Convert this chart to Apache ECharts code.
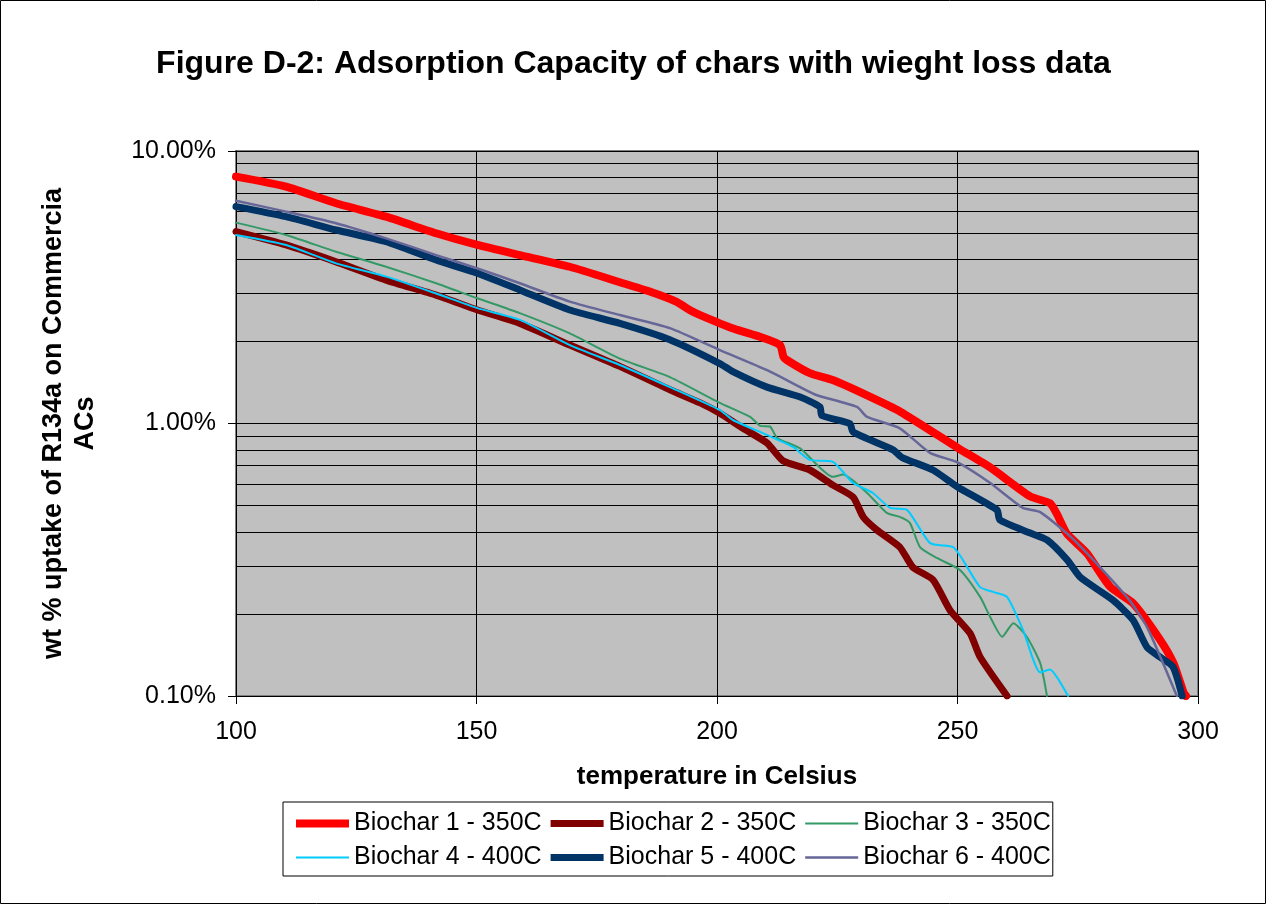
<!DOCTYPE html>
<html>
<head>
<meta charset="utf-8">
<script src="https://cdn.jsdelivr.net/npm/echarts@6/dist/echarts.min.js"></script>
<style>
html,body{margin:0;padding:0;background:#fff;}
#chart{width:1267px;height:905px;}
</style>
</head>
<body>
<div id="chart"></div>
<script>
// ---- data (temperature in Celsius, wt % uptake) ----
const seriesNames = ['Biochar 1 - 350C','Biochar 2 - 350C','Biochar 3 - 350C','Biochar 4 - 400C','Biochar 5 - 400C','Biochar 6 - 400C'];
const biochar1 = [[100,8.05],[110.4,7.40],[120.8,6.43],[131.2,5.74],[141.6,4.99],[150.2,4.52],[159,4.15],[169.4,3.76],[179.8,3.30],[186,3.05],[191.5,2.80],[194.5,2.60],[196.5,2.50],[203.4,2.23],[208.9,2.08],[213.1,1.94],[213.8,1.76],[214.5,1.71],[219.3,1.53],[224.2,1.44],[231.1,1.27],[238.1,1.105],[250.2,0.811],[256.8,0.69],[265.1,0.54],[269.2,0.51],[270.6,0.468],[272.7,0.395],[276.9,0.334],[281.7,0.252],[286.5,0.219],[292.1,0.161],[294.9,0.132],[297,0.103],[297.5,0.1]];
const biochar2 = [[100,5.06],[110.4,4.52],[120.8,3.92],[131.2,3.36],[141.6,2.96],[150.2,2.61],[159,2.33],[169.4,1.94],[179.8,1.62],[190.2,1.33],[196.5,1.19],[200.6,1.09],[205.4,0.96],[210.4,0.848],[213.7,0.73],[219.3,0.675],[224.1,0.594],[228.3,0.537],[230.4,0.454],[233.3,0.406],[238,0.352],[240.7,0.297],[244.9,0.267],[248.4,0.207],[252.6,0.17],[254.7,0.139],[260.3,0.1]];
const biochar3 = [[100,5.46],[110.4,4.92],[120.8,4.27],[131.2,3.76],[141.6,3.27],[150.2,2.88],[159,2.54],[169.4,2.14],[179.8,1.73],[190.2,1.48],[200.6,1.19],[206.9,1.057],[209,0.98],[211,0.975],[212.5,0.885],[217.3,0.81],[224.1,0.637],[226.2,0.65],[231.2,0.556],[235.3,0.47],[238,0.454],[240.1,0.432],[242.2,0.352],[245.7,0.321],[250.5,0.29],[254.7,0.231],[256.8,0.195],[259.3,0.165],[261.6,0.185],[264.4,0.165],[267.2,0.132],[268.6,0.1]];
const biochar4 = [[100,4.92],[110.4,4.52],[120.8,3.87],[131.2,3.46],[141.6,3.00],[150.2,2.65],[159,2.40],[169.4,1.94],[179.8,1.64],[190.2,1.36],[200.6,1.12],[203.3,1.03],[210.4,0.908],[215.8,0.82],[219.3,0.735],[224.1,0.723],[228.3,0.605],[232.4,0.556],[236,0.49],[239.5,0.482],[244.3,0.364],[249.1,0.352],[251.1,0.316],[254.7,0.251],[257.4,0.241],[260.3,0.231],[263.6,0.175],[267.2,0.122],[269.2,0.125],[270.7,0.117],[273,0.1]];
const biochar5 = [[100,6.25],[110.4,5.74],[120.8,5.13],[131.2,4.65],[141.6,3.98],[150.2,3.56],[159,3.09],[169.4,2.61],[179.8,2.33],[190.2,2.03],[200.6,1.66],[203.3,1.55],[210.4,1.36],[217.3,1.25],[221.4,1.15],[221.8,1.07],[227.6,1.0],[228.3,0.93],[236.6,0.80],[238.5,0.75],[244.9,0.675],[250,0.585],[258.2,0.482],[258.8,0.443],[265,0.397],[268.6,0.374],[272.8,0.316],[275.5,0.273],[282.3,0.225],[286.5,0.19],[289.4,0.151],[292.1,0.139],[294.8,0.128],[296.7,0.1]];
const biochar6 = [[100,6.57],[110.4,5.99],[120.8,5.43],[131.2,4.78],[141.6,4.15],[150.2,3.71],[159,3.27],[169.4,2.80],[179.8,2.50],[190.2,2.24],[200.6,1.86],[210.4,1.57],[217.3,1.36],[220.8,1.27],[229.1,1.15],[231.2,1.057],[238,0.96],[244.3,0.78],[250,0.72],[256.8,0.605],[263.6,0.49],[267.2,0.473],[274,0.377],[285.2,0.231],[289.4,0.179],[295.6,0.1]];
const xTicks = [100,150,200,250,300];
const minorGridValues = [0.2,0.3,0.4,0.5,0.6,0.7,0.8,0.9,2,3,4,5,6,7,8,9];

// ---- styles ----
const colors = ['#FF0000','#800000','#339966','#00CCFF','#003366','#666699'];
const widths = [8,7,2,2,7,2.5];
const allData = [biochar1,biochar2,biochar3,biochar4,biochar5,biochar6];
const FONT = '"Liberation Sans", Arial, sans-serif';

const series = allData.map((d,i)=>({
  name: seriesNames[i],
  type: 'line',
  data: d,
  symbol: 'none',
  smooth: 0.2,
  clip: true,
  lineStyle: {color: colors[i], width: widths[i], join: 'round', cap: 'round'},
  itemStyle: {color: colors[i]},
  z: 3 + i
}));
series.unshift({
  name: 'minor-grid',
  type: 'line',
  data: [],
  silent: true,
  z: 1,
  markLine: {
    silent: true,
    z: 1,
    animation: false,
    symbol: ['none','none'],
    label: {show: false},
    lineStyle: {color: '#000', width: 1, type: 'solid'},
    emphasis: {disabled: true},
    data: minorGridValues.map(v=>({yAxis: v}))
  }
});

const chart = echarts.init(document.getElementById('chart'), null, {renderer: 'canvas'});
chart.setOption({
  animation: false,
  backgroundColor: '#fff',
  textStyle: {fontFamily: FONT},
  title: {
    text: 'Figure D-2: Adsorption Capacity of chars with wieght loss data',
    left: 'center',
    top: 43,
    textStyle: {fontFamily: FONT, fontSize: 32, fontWeight: 'bold', color: '#000'}
  },
  graphic: [{
    type: 'rect', silent: true, z: 100,
    shape: {x: 0.5, y: 0.5, width: 1265, height: 903},
    style: {fill: 'none', stroke: '#000', lineWidth: 1}
  }],
  grid: {
    left: 236, right: 69, top: 151, bottom: 209,
    show: true, backgroundColor: '#C0C0C0', borderColor: '#808080', borderWidth: 2
  },
  legend: {
    data: seriesNames.map((n,i)=>({
      name: n,
      icon: 'path://M0,0H53V' + widths[i] + 'H0Z'
    })),
    left: 283, top: 802, width: 770,
    orient: 'horizontal',
    itemWidth: 53, itemHeight: 26, itemGap: 9, itemTextGap: 5,
    padding: [9, 2, 6, 13],
    borderColor: '#000', borderWidth: 1, backgroundColor: '#fff',
    textStyle: {fontFamily: FONT, fontSize: 25, color: '#000', width: 190},
    selectedMode: false
  },
  xAxis: {
    type: 'value', min: 100, max: 300, interval: 50,
    name: 'temperature in Celsius', nameLocation: 'middle', nameGap: 68,
    nameTextStyle: {fontFamily: FONT, fontSize: 26, fontWeight: 'bold', color: '#000'},
    axisLine: {show: true, lineStyle: {color: '#000', width: 1}},
    axisTick: {show: true, inside: false, length: 8, lineStyle: {color: '#000'}},
    axisLabel: {fontFamily: FONT, fontSize: 25, color: '#000', margin: 24,
      formatter: v => xTicks.indexOf(v) >= 0 ? String(v) : ''},
    splitLine: {show: true, lineStyle: {color: '#000', width: 1}}
  },
  yAxis: {
    type: 'log', logBase: 10, min: 0.1, max: 10,
    name: 'wt % uptake of R134a on Commercia\nACs', nameLocation: 'middle', nameGap: 134, nameRotate: 90,
    nameTextStyle: {fontFamily: FONT, fontSize: 27, fontWeight: 'bold', color: '#000', lineHeight: 32, align: 'center'},
    axisLine: {show: true, lineStyle: {color: '#000', width: 1}},
    axisTick: {show: true, inside: false, length: 8, lineStyle: {color: '#000'}},
    axisLabel: {fontFamily: FONT, fontSize: 25, color: '#000', margin: 20,
      formatter: v => v.toFixed(2) + '%'},
    splitLine: {show: true, lineStyle: {color: '#000', width: 1}}
  },
  series: series
});
</script>
</body>
</html>
